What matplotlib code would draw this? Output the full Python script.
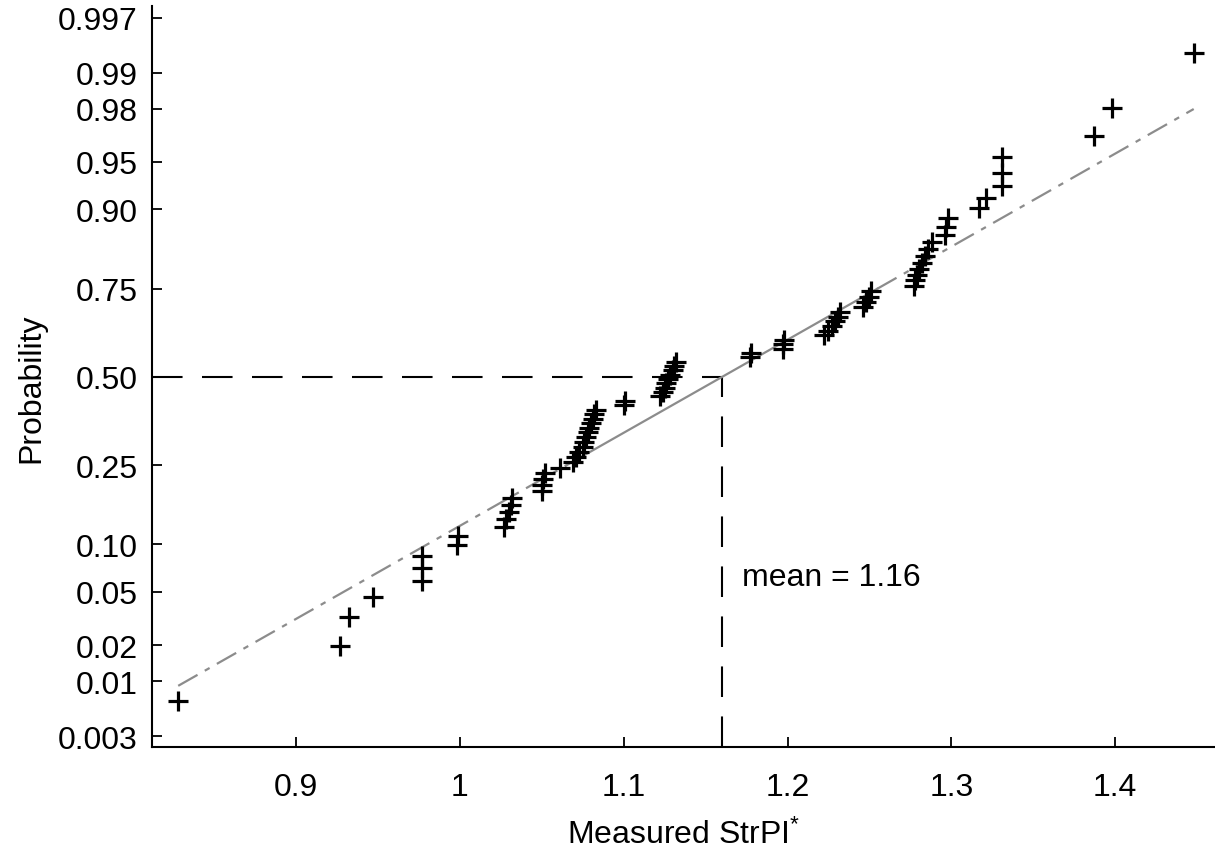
import math
import numpy as np
import matplotlib
matplotlib.use("Agg")
import matplotlib.pyplot as plt

# Measured StrPI* values (sorted)
strpi = [
    0.828, 0.927, 0.932, 0.947,
    0.977, 0.977, 0.977,
    0.998, 0.999,
    1.027, 1.028, 1.030, 1.031, 1.032,
    1.050, 1.050, 1.051, 1.052,
    1.061, 1.069,
    1.071, 1.073, 1.075, 1.076, 1.077, 1.078, 1.079, 1.080, 1.081, 1.082, 1.083,
    1.100, 1.101,
    1.122, 1.124, 1.125, 1.126, 1.127, 1.128, 1.130, 1.131, 1.132,
    1.177, 1.178,
    1.197, 1.197, 1.198,
    1.222, 1.225, 1.227, 1.229, 1.231, 1.232,
    1.246, 1.248, 1.250, 1.251,
    1.277, 1.278, 1.279, 1.280, 1.282, 1.284, 1.286, 1.288,
    1.296, 1.297, 1.298,
    1.317, 1.321,
    1.331, 1.331, 1.331,
    1.387, 1.398, 1.448,
]

prob_ticks = [0.003, 0.01, 0.02, 0.05, 0.10, 0.25, 0.50, 0.75, 0.90, 0.95, 0.98, 0.99, 0.997]
prob_labels = ["0.003", "0.01", "0.02", "0.05", "0.10", "0.25", "0.50",
               "0.75", "0.90", "0.95", "0.98", "0.99", "0.997"]
x_ticks = [0.9, 1.0, 1.1, 1.2, 1.3, 1.4]
x_labels = ["0.9", "1", "1.1", "1.2", "1.3", "1.4"]

fit_mean = 1.16
fit_sd = 0.1405
mean_label = "mean = 1.16"


# ---- normal probability scale helpers ----
_a = [-3.969683028665376e+01, 2.209460984245205e+02, -2.759285104469687e+02,
      1.383577518672690e+02, -3.066479806614716e+01, 2.506628277459239e+00]
_b = [-5.447609879822406e+01, 1.615858368580409e+02, -1.556989798598866e+02,
      6.680131188771972e+01, -1.328068155288572e+01]
_c = [-7.784894002430293e-03, -3.223964580411365e-01, -2.400758277161838e+00,
      -2.549732539343734e+00, 4.374664141464968e+00, 2.938163982698783e+00]
_d = [7.784695709041462e-03, 3.224671290700398e-01, 2.445134137142996e+00,
      3.754408661907416e+00]


def _ppf_scalar(p):
    p = min(max(p, 1e-12), 1 - 1e-12)
    plow = 0.02425
    if p < plow:
        q = math.sqrt(-2 * math.log(p))
        return ((((((_c[0]*q+_c[1])*q+_c[2])*q+_c[3])*q+_c[4])*q+_c[5]) /
                ((((_d[0]*q+_d[1])*q+_d[2])*q+_d[3])*q+1))
    if p > 1 - plow:
        q = math.sqrt(-2 * math.log(1 - p))
        return -((((((_c[0]*q+_c[1])*q+_c[2])*q+_c[3])*q+_c[4])*q+_c[5]) /
                 ((((_d[0]*q+_d[1])*q+_d[2])*q+_d[3])*q+1))
    q = p - 0.5
    r = q * q
    return ((((((_a[0]*r+_a[1])*r+_a[2])*r+_a[3])*r+_a[4])*r+_a[5])*q /
            (((((_b[0]*r+_b[1])*r+_b[2])*r+_b[3])*r+_b[4])*r+1))


def norm_ppf(p):
    p = np.asarray(p, dtype=float)
    out = np.array([_ppf_scalar(v) if np.isfinite(v) else v for v in p.ravel()])
    return out.reshape(p.shape)


def norm_cdf(z):
    z = np.asarray(z, dtype=float)
    out = np.array([0.5 * (1 + math.erf(v / math.sqrt(2))) if np.isfinite(v) else v
                    for v in z.ravel()])
    return out.reshape(z.shape)


plt.rcParams["font.family"] = ["Liberation Sans", "DejaVu Sans"]
plt.rcParams["mathtext.fontset"] = "custom"
plt.rcParams["mathtext.rm"] = "Liberation Sans"
plt.rcParams["mathtext.it"] = "Liberation Sans"
plt.rcParams["lines.scale_dashes"] = False

fig = plt.figure(figsize=(12.15, 8.53), dpi=100)
ax = fig.add_axes([152 / 1215, 1 - 748 / 853, 1 - 152 / 1215, (748 - 7) / 853])
ax.set_yscale("function", functions=(norm_ppf, norm_cdf))

data = np.sort(np.asarray(strpi))
n = len(data)
pp = (np.arange(1, n + 1) - 0.5) / n

# fitted normal line: solid between quartiles, dash-dot out to the data extremes
q1 = fit_mean + fit_sd * norm_ppf(0.25)
q3 = fit_mean + fit_sd * norm_ppf(0.75)
line_col = "#8c8c8c"
dashdot = (0, (16, 6, 4, 6))
for xa, xb, ls in [(data[0], q1, dashdot), (q1, q3, "-"), (q3, data[-1], dashdot)]:
    xs = np.linspace(xa, xb, 50)
    ax.plot(xs, norm_cdf((xs - fit_mean) / fit_sd), color=line_col, lw=1.6,
            linestyle=ls, zorder=2)

ax.plot(data, pp, linestyle="none", marker="+", markersize=15,
        markeredgewidth=2.3, color="black", zorder=3)

xlim = (0.812, 1.461)
ylim = (0.00232, 0.99773)
ax.set_xlim(*xlim)
ax.set_ylim(*ylim)

ref_dash = (0, (22, 14))
ax.plot([xlim[0], fit_mean], [0.5, 0.5], color="black", lw=1.5, linestyle=ref_dash, zorder=1)
ax.plot([fit_mean, fit_mean], [ylim[0], 0.5], color="black", lw=1.5, linestyle=ref_dash, zorder=1)
ax.text(1.172, 0.063, mean_label, fontsize=23, ha="left", va="center")

ax.set_yticks(prob_ticks)
ax.set_yticklabels(prob_labels)
ax.yaxis.set_minor_locator(matplotlib.ticker.NullLocator())
ax.set_xticks(x_ticks)
ax.set_xticklabels(x_labels)

ax.tick_params(axis="both", direction="in", length=7.5, width=1.3, labelsize=23)
ax.tick_params(axis="x", pad=18)
ax.tick_params(axis="y", pad=10.5)
for side in ("top", "right"):
    ax.spines[side].set_visible(False)
for side in ("left", "bottom"):
    ax.spines[side].set_linewidth(1.5)

ax.set_ylabel("Probability", fontsize=23)
ax.yaxis.set_label_coords(-0.099, 0.485)
ax.set_xlabel(r"Measured StrPI$^{*}$", fontsize=23)
ax.xaxis.set_label_coords(0.5, -0.097)

fig.savefig("out.png", dpi=100)
